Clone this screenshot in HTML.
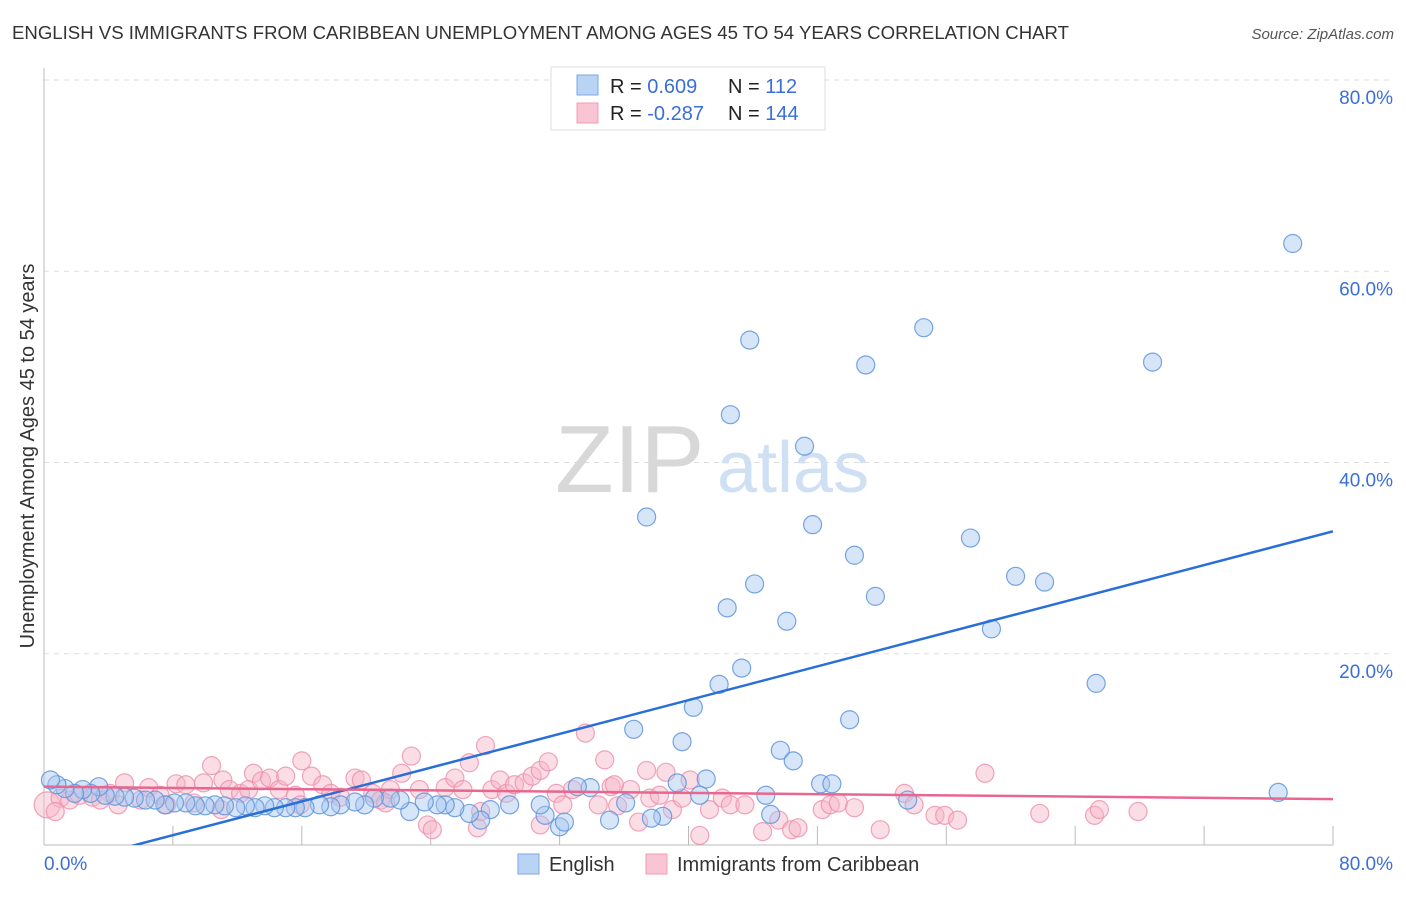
<!DOCTYPE html>
<html><head><meta charset="utf-8"><style>
body{margin:0;background:#fff;font-family:"Liberation Sans",sans-serif}
svg text{font-family:"Liberation Sans",sans-serif}
</style></head><body>
<svg width="1406" height="892">
<text x="12" y="39" font-size="18.6" fill="#333">ENGLISH VS IMMIGRANTS FROM CARIBBEAN UNEMPLOYMENT AMONG AGES 45 TO 54 YEARS CORRELATION CHART</text>
<text x="1394" y="39" font-size="15" fill="#555" font-style="italic" text-anchor="end">Source: ZipAtlas.com</text>
<g id="grid"></g>
<text x="555" y="492" font-size="96" fill="#d8d8d8" font-family="Liberation Serif">ZIP</text>
<text x="717" y="492" font-size="72" fill="#cfe0f5">atlas</text>
<g id="pts"></g>
<g id="lines"></g>
<text x="34" y="456" font-size="20" fill="#333" text-anchor="middle" transform="rotate(-90 34 456)">Unemployment Among Ages 45 to 54 years</text>
<g>
<rect x="551" y="67" width="274" height="63" fill="#fff" stroke="#ddd"/>
<rect x="577" y="75" width="21" height="20" fill="#b9d3f5" stroke="#7aa7e4"/>
<rect x="577" y="103" width="21" height="20" fill="#f9c5d4" stroke="#ef9db5"/>
<text x="610" y="93" font-size="20" fill="#222">R = <tspan fill="#3a6fd8"> 0.609</tspan><tspan x="728">N = </tspan><tspan fill="#3a6fd8"> 112</tspan></text>
<text x="610" y="120" font-size="20" fill="#222">R = <tspan fill="#3a6fd8">-0.287</tspan><tspan x="728">N = </tspan><tspan fill="#3a6fd8">144</tspan></text>
</g>
<g>
<rect x="518" y="854" width="21" height="20" fill="#b9d3f5" stroke="#7aa7e4"/>
<text x="549" y="871" font-size="20" fill="#333">English</text>
<rect x="646" y="854" width="21" height="20" fill="#f9c5d4" stroke="#ef9db5"/>
<text x="677" y="871" font-size="20" fill="#333">Immigrants from Caribbean</text>
</g>
</svg>
<script>
const yTicks=[20,40,60,80];
const yTickLabels=["20.0%","40.0%","60.0%","80.0%"];
const xTicks=[0,8,16,24,32,40,48,56,64,72,80];
const xTickLabels=["0.0%","80.0%"];
const englishX=[77.5,54.6,43.8,51.0,68.8,42.6,47.2,37.4,47.7,57.5,50.3,44.1,60.3,62.1,51.6,42.4,46.1,58.8,43.3,41.9,65.3,40.3,50.0,36.6,39.6,45.7,46.5,41.1,39.3,48.2,48.9,44.8,53.6,76.6,40.7,45.1,38.4,37.7,36.1,35.1,33.9,33.1,32.0,31.1,32.3,28.9,30.8,27.7,27.1,26.4,25.5,24.9,24.4,23.6,22.7,22.1,21.5,20.5,19.9,19.3,18.4,17.8,17.1,16.2,15.6,15.0,14.3,13.7,13.1,12.5,11.9,11.2,10.6,10.0,9.4,8.8,8.1,7.5,6.9,6.3,5.6,5.0,4.4,3.8,3.4,2.9,2.4,1.9,1.3,0.8,0.4];
const englishY=[62.9,54.1,52.8,50.2,50.5,45.0,41.7,34.3,33.5,32.1,30.3,27.3,28.1,27.5,26.0,24.8,23.4,22.6,18.5,16.8,16.9,14.4,13.1,12.1,10.8,9.9,8.8,6.9,6.5,6.4,6.4,5.2,4.7,5.5,5.2,3.2,3.0,2.8,4.4,2.6,6.0,6.1,1.9,3.1,2.4,4.2,4.2,3.7,2.6,3.3,3.9,4.2,4.2,4.5,3.5,4.7,4.9,4.9,4.2,4.5,4.2,4.0,4.2,3.9,3.9,3.9,3.9,4.1,3.9,4.1,3.9,4.1,4.2,4.1,4.1,4.4,4.4,4.2,4.7,4.7,4.9,5.0,5.1,5.2,6.1,5.4,5.8,5.4,5.9,6.3,6.8];
const caribX=[0.2,1.0,1.6,2.2,3.0,4.1,4.6,5.0,6.0,6.5,7.2,8.2,8.8,9.3,9.9,10.4,11.1,11.5,12.2,12.7,13.0,13.5,14.0,14.6,15.0,15.6,16.0,16.6,17.3,17.8,18.4,19.3,19.7,20.4,20.9,21.5,22.2,22.8,23.3,23.8,24.1,24.9,25.5,26.0,26.4,26.9,27.4,27.8,28.3,28.7,29.2,29.8,30.3,30.8,31.3,31.8,32.2,32.8,33.6,34.4,34.8,35.2,35.6,36.4,36.9,37.4,37.6,38.2,38.6,39.0,39.6,40.1,40.7,41.3,42.1,42.6,43.5,44.6,45.6,46.4,46.8,48.3,48.8,49.3,50.3,51.9,53.4,54.0,55.3,55.9,56.7,58.4,61.8,65.2,65.5,67.9,0.7,3.5,7.6,11.0,15.9,21.2,30.8,27.1,35.4];
const caribY=[4.2,4.9,4.7,5.2,5.0,5.4,4.2,6.5,4.7,6.0,5.2,6.4,6.3,4.4,6.5,8.3,6.8,5.8,5.4,5.8,7.5,6.7,7.0,5.8,7.2,5.2,8.8,7.2,6.3,5.4,5.0,7.0,6.8,5.4,4.7,5.8,7.5,9.3,5.8,2.1,1.6,6.0,7.0,5.8,8.6,1.8,10.4,5.8,6.8,5.4,6.3,6.5,7.2,7.8,8.7,5.4,4.2,5.8,11.7,4.2,8.9,6.1,4.1,5.8,2.4,7.8,4.9,5.2,7.6,3.7,4.9,6.8,1.0,3.7,4.9,4.2,4.2,1.4,2.6,1.6,1.8,3.7,4.2,4.4,3.9,1.6,5.4,4.2,3.1,3.1,2.6,7.5,3.3,3.1,3.7,3.5,3.5,4.7,4.2,3.7,4.2,4.4,2.1,3.5,6.3];
const englishTrend=[-2.5,32.8];
const caribTrend=[6.1,4.8];
const NS='http://www.w3.org/2000/svg';
const X0=44,X1=1333,Y0=845,Y80=80;
const sx=v=>X0+(X1-X0)*v/80, sy=v=>Y0-(Y0-Y80)*v/80;
function mk(t,a,p){const e=document.createElementNS(NS,t);for(const k in a)e.setAttribute(k,a[k]);p.appendChild(e);return e;}
const g=document.getElementById('grid');
yTicks.forEach((t,i)=>{
 const l=mk('line',{x1:X0,x2:1393,y1:sy(t),y2:sy(t),stroke:'#ddd','stroke-dasharray':'5,5'},g);
 
 
 const tx=mk('text',{x:1393,y:sy(t)+24,'font-size':19,fill:'#3a6fd8','text-anchor':'end'},g);
 tx.textContent=yTickLabels[i];
 
 
});
const ax=mk('line',{x1:X0,x2:X0,y1:68,y2:Y0,stroke:'#bbb'},g);


const bx=mk('line',{x1:X0,x2:X1,y1:Y0,y2:Y0,stroke:'#bbb'},g);


xTicks.forEach(t=>{const l=mk('line',{x1:sx(t),x2:sx(t),y1:Y0,y2:Y0-19,stroke:'#bbb'},g);
 
 });
const xl0=mk('text',{x:X0,y:870,'font-size':19,fill:'#3a6fd8'},g);xl0.textContent=xTickLabels[0];


const xl1=mk('text',{x:1393,y:870,'font-size':19,fill:'#3a6fd8','text-anchor':'end'},g);xl1.textContent=xTickLabels[1];


const p=document.getElementById('pts');
caribX.forEach((v,i)=>{const c=mk('circle',{cx:sx(v),cy:sy(caribY[i]),r:i===0?13:9,fill:'#f6b3c6','fill-opacity':0.45,stroke:'#ec8fab','stroke-opacity':0.8,'stroke-width':1.2},p);
 
 });
englishX.forEach((v,i)=>{const c=mk('circle',{cx:sx(v),cy:sy(englishY[i]),r:9,fill:'#a6c6f0','fill-opacity':0.45,stroke:'#5f95dc','stroke-opacity':0.85,'stroke-width':1.2},p);
 
 });
const L=document.getElementById('lines');
const cp=mk('clipPath',{id:'pc'},L);mk('rect',{x:X0,y:60,width:X1-X0,height:Y0-60},cp);
const bl=mk('line',{x1:sx(0),y1:sy(englishTrend[0]),x2:sx(80),y2:sy(englishTrend[1]),stroke:'#2a6fd8','stroke-width':2.5,'clip-path':'url(#pc)'},L);


const pl=mk('line',{x1:sx(0),y1:sy(caribTrend[0]),x2:sx(80),y2:sy(caribTrend[1]),stroke:'#e8668f','stroke-width':2.5},L);


</script>
</body></html>
